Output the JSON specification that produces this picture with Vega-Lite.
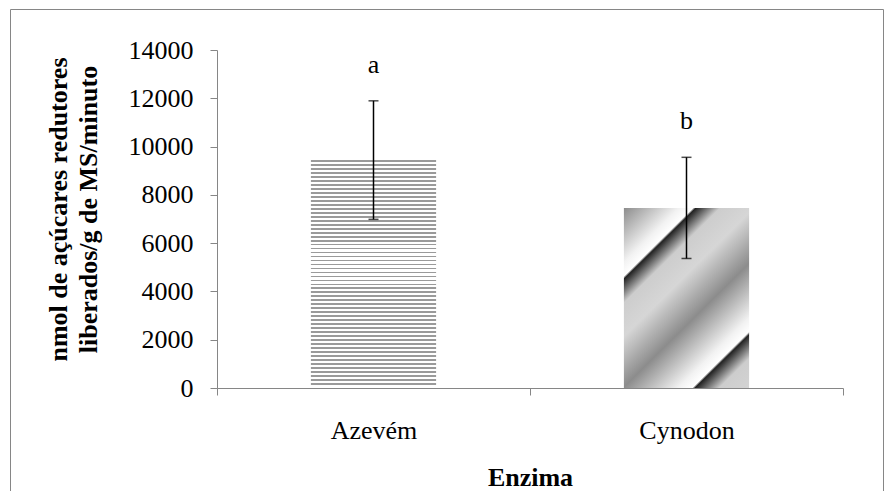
{
"$schema": "https://vega.github.io/schema/vega-lite/v6.json",
"width": 873,
"height": 482,
"autosize": {"type": "none"},
"padding": {"left": 10, "top": 9, "right": 10, "bottom": 0},
"background": "white",
"config": {"view": {"stroke": "#868686", "strokeWidth": 1, "strokeDash": [1355, 873, 482, 0]}, "font": "Liberation Serif"},
"data": {"values": [
  {"enzima": "Azevém", "media": 9440, "inferior": 6985, "superior": 11895, "letra": "a"},
  {"enzima": "Cynodon", "media": 7460, "inferior": 5365, "superior": 9555, "letra": "b"}
]},
"encoding": {
  "x": {"field": "enzima", "type": "nominal", "sort": null,
    "scale": {"domain": ["Azevém", "Cynodon"], "range": [207, 833], "paddingInner": 0, "paddingOuter": 0},
    "axis": {"title": "Enzima", "titleFont": "Liberation Serif", "titleFontSize": 26, "titleFontWeight": "bold", "titleColor": "black",
      "titleY": 97, "titleBaseline": "alphabetic", "offset": -103,
      "labelFont": "Liberation Serif", "labelFontSize": 26, "labelColor": "black", "labelAngle": 0, "labelPadding": 22,
      "tickSize": 7, "tickColor": "#868686", "domainColor": "#868686", "tickBand": "extent", "grid": false}}
},
"layer": [
  {"transform": [{"filter": "datum.enzima === 'Azevém'"}],
   "mark": {"type": "bar", "width": {"band": 0.4}, "fill": {"gradient": "linear", "x1": 0, "y1": 0, "x2": 0, "y2": 1, "stops": [
{"offset":0,"color":"#9a9a9a"},{"offset":0.0079,"color":"#9a9a9a"},{"offset":0.0079,"color":"#ffffff"},
{"offset":0.0175,"color":"#ffffff"},{"offset":0.0175,"color":"#9a9a9a"},{"offset":0.0253,"color":"#9a9a9a"},{"offset":0.0253,"color":"#ffffff"},
{"offset":0.0349,"color":"#ffffff"},{"offset":0.0349,"color":"#9a9a9a"},{"offset":0.0428,"color":"#9a9a9a"},{"offset":0.0428,"color":"#ffffff"},
{"offset":0.0524,"color":"#ffffff"},{"offset":0.0524,"color":"#9a9a9a"},{"offset":0.0603,"color":"#9a9a9a"},{"offset":0.0603,"color":"#ffffff"},
{"offset":0.0699,"color":"#ffffff"},{"offset":0.0699,"color":"#9a9a9a"},{"offset":0.0777,"color":"#9a9a9a"},{"offset":0.0777,"color":"#ffffff"},
{"offset":0.0873,"color":"#ffffff"},{"offset":0.0873,"color":"#9a9a9a"},{"offset":0.0952,"color":"#9a9a9a"},{"offset":0.0952,"color":"#ffffff"},
{"offset":0.1048,"color":"#ffffff"},{"offset":0.1048,"color":"#9a9a9a"},{"offset":0.1127,"color":"#9a9a9a"},{"offset":0.1127,"color":"#ffffff"},
{"offset":0.1223,"color":"#ffffff"},{"offset":0.1223,"color":"#9a9a9a"},{"offset":0.1301,"color":"#9a9a9a"},{"offset":0.1301,"color":"#ffffff"},
{"offset":0.1397,"color":"#ffffff"},{"offset":0.1397,"color":"#9a9a9a"},{"offset":0.1476,"color":"#9a9a9a"},{"offset":0.1476,"color":"#ffffff"},
{"offset":0.1572,"color":"#ffffff"},{"offset":0.1572,"color":"#9a9a9a"},{"offset":0.1651,"color":"#9a9a9a"},{"offset":0.1651,"color":"#ffffff"},
{"offset":0.1747,"color":"#ffffff"},{"offset":0.1747,"color":"#9a9a9a"},{"offset":0.1825,"color":"#9a9a9a"},{"offset":0.1825,"color":"#ffffff"},
{"offset":0.1921,"color":"#ffffff"},{"offset":0.1921,"color":"#9a9a9a"},{"offset":0.2000,"color":"#9a9a9a"},{"offset":0.2000,"color":"#ffffff"},
{"offset":0.2096,"color":"#ffffff"},{"offset":0.2096,"color":"#9a9a9a"},{"offset":0.2175,"color":"#9a9a9a"},{"offset":0.2175,"color":"#ffffff"},
{"offset":0.2271,"color":"#ffffff"},{"offset":0.2271,"color":"#9a9a9a"},{"offset":0.2349,"color":"#9a9a9a"},{"offset":0.2349,"color":"#ffffff"},
{"offset":0.2445,"color":"#ffffff"},{"offset":0.2445,"color":"#9a9a9a"},{"offset":0.2524,"color":"#9a9a9a"},{"offset":0.2524,"color":"#ffffff"},
{"offset":0.2620,"color":"#ffffff"},{"offset":0.2620,"color":"#9a9a9a"},{"offset":0.2699,"color":"#9a9a9a"},{"offset":0.2699,"color":"#ffffff"},
{"offset":0.2795,"color":"#ffffff"},{"offset":0.2795,"color":"#9a9a9a"},{"offset":0.2873,"color":"#9a9a9a"},{"offset":0.2873,"color":"#ffffff"},
{"offset":0.2969,"color":"#ffffff"},{"offset":0.2969,"color":"#9a9a9a"},{"offset":0.3048,"color":"#9a9a9a"},{"offset":0.3048,"color":"#ffffff"},
{"offset":0.3144,"color":"#ffffff"},{"offset":0.3144,"color":"#9a9a9a"},{"offset":0.3223,"color":"#9a9a9a"},{"offset":0.3223,"color":"#ffffff"},
{"offset":0.3319,"color":"#ffffff"},{"offset":0.3319,"color":"#9a9a9a"},{"offset":0.3397,"color":"#9a9a9a"},{"offset":0.3397,"color":"#ffffff"},
{"offset":0.3493,"color":"#ffffff"},{"offset":0.3493,"color":"#9a9a9a"},{"offset":0.3572,"color":"#9a9a9a"},{"offset":0.3572,"color":"#ffffff"},
{"offset":0.3668,"color":"#ffffff"},{"offset":0.3668,"color":"#9a9a9a"},{"offset":0.3747,"color":"#9a9a9a"},{"offset":0.3747,"color":"#ffffff"},
{"offset":0.3843,"color":"#ffffff"},{"offset":0.3843,"color":"#9a9a9a"},{"offset":0.3921,"color":"#9a9a9a"},{"offset":0.3921,"color":"#ffffff"},
{"offset":0.4017,"color":"#ffffff"},{"offset":0.4017,"color":"#9a9a9a"},{"offset":0.4096,"color":"#9a9a9a"},{"offset":0.4096,"color":"#ffffff"},
{"offset":0.4192,"color":"#ffffff"},{"offset":0.4192,"color":"#9a9a9a"},{"offset":0.4271,"color":"#9a9a9a"},{"offset":0.4271,"color":"#ffffff"},
{"offset":0.4367,"color":"#ffffff"},{"offset":0.4367,"color":"#9a9a9a"},{"offset":0.4445,"color":"#9a9a9a"},{"offset":0.4445,"color":"#ffffff"},
{"offset":0.4541,"color":"#ffffff"},{"offset":0.4541,"color":"#9a9a9a"},{"offset":0.4620,"color":"#9a9a9a"},{"offset":0.4620,"color":"#ffffff"},
{"offset":0.4716,"color":"#ffffff"},{"offset":0.4716,"color":"#9a9a9a"},{"offset":0.4795,"color":"#9a9a9a"},{"offset":0.4795,"color":"#ffffff"},
{"offset":0.4891,"color":"#ffffff"},{"offset":0.4891,"color":"#9a9a9a"},{"offset":0.4969,"color":"#9a9a9a"},{"offset":0.4969,"color":"#ffffff"},
{"offset":0.5066,"color":"#ffffff"},{"offset":0.5066,"color":"#9a9a9a"},{"offset":0.5144,"color":"#9a9a9a"},{"offset":0.5144,"color":"#ffffff"},
{"offset":0.5240,"color":"#ffffff"},{"offset":0.5240,"color":"#9a9a9a"},{"offset":0.5319,"color":"#9a9a9a"},{"offset":0.5319,"color":"#ffffff"},
{"offset":0.5415,"color":"#ffffff"},{"offset":0.5415,"color":"#9a9a9a"},{"offset":0.5493,"color":"#9a9a9a"},{"offset":0.5493,"color":"#ffffff"},
{"offset":0.5589,"color":"#ffffff"},{"offset":0.5589,"color":"#9a9a9a"},{"offset":0.5668,"color":"#9a9a9a"},{"offset":0.5668,"color":"#ffffff"},
{"offset":0.5764,"color":"#ffffff"},{"offset":0.5764,"color":"#9a9a9a"},{"offset":0.5843,"color":"#9a9a9a"},{"offset":0.5843,"color":"#ffffff"},
{"offset":0.5939,"color":"#ffffff"},{"offset":0.5939,"color":"#9a9a9a"},{"offset":0.6017,"color":"#9a9a9a"},{"offset":0.6017,"color":"#ffffff"},
{"offset":0.6113,"color":"#ffffff"},{"offset":0.6113,"color":"#9a9a9a"},{"offset":0.6192,"color":"#9a9a9a"},{"offset":0.6192,"color":"#ffffff"},
{"offset":0.6288,"color":"#ffffff"},{"offset":0.6288,"color":"#9a9a9a"},{"offset":0.6367,"color":"#9a9a9a"},{"offset":0.6367,"color":"#ffffff"},
{"offset":0.6463,"color":"#ffffff"},{"offset":0.6463,"color":"#9a9a9a"},{"offset":0.6541,"color":"#9a9a9a"},{"offset":0.6541,"color":"#ffffff"},
{"offset":0.6637,"color":"#ffffff"},{"offset":0.6637,"color":"#9a9a9a"},{"offset":0.6716,"color":"#9a9a9a"},{"offset":0.6716,"color":"#ffffff"},
{"offset":0.6812,"color":"#ffffff"},{"offset":0.6812,"color":"#9a9a9a"},{"offset":0.6891,"color":"#9a9a9a"},{"offset":0.6891,"color":"#ffffff"},
{"offset":0.6987,"color":"#ffffff"},{"offset":0.6987,"color":"#9a9a9a"},{"offset":0.7065,"color":"#9a9a9a"},{"offset":0.7065,"color":"#ffffff"},
{"offset":0.7161,"color":"#ffffff"},{"offset":0.7161,"color":"#9a9a9a"},{"offset":0.7240,"color":"#9a9a9a"},{"offset":0.7240,"color":"#ffffff"},
{"offset":0.7336,"color":"#ffffff"},{"offset":0.7336,"color":"#9a9a9a"},{"offset":0.7415,"color":"#9a9a9a"},{"offset":0.7415,"color":"#ffffff"},
{"offset":0.7511,"color":"#ffffff"},{"offset":0.7511,"color":"#9a9a9a"},{"offset":0.7589,"color":"#9a9a9a"},{"offset":0.7589,"color":"#ffffff"},
{"offset":0.7685,"color":"#ffffff"},{"offset":0.7685,"color":"#9a9a9a"},{"offset":0.7764,"color":"#9a9a9a"},{"offset":0.7764,"color":"#ffffff"},
{"offset":0.7860,"color":"#ffffff"},{"offset":0.7860,"color":"#9a9a9a"},{"offset":0.7939,"color":"#9a9a9a"},{"offset":0.7939,"color":"#ffffff"},
{"offset":0.8035,"color":"#ffffff"},{"offset":0.8035,"color":"#9a9a9a"},{"offset":0.8113,"color":"#9a9a9a"},{"offset":0.8113,"color":"#ffffff"},
{"offset":0.8209,"color":"#ffffff"},{"offset":0.8209,"color":"#9a9a9a"},{"offset":0.8288,"color":"#9a9a9a"},{"offset":0.8288,"color":"#ffffff"},
{"offset":0.8384,"color":"#ffffff"},{"offset":0.8384,"color":"#9a9a9a"},{"offset":0.8463,"color":"#9a9a9a"},{"offset":0.8463,"color":"#ffffff"},
{"offset":0.8559,"color":"#ffffff"},{"offset":0.8559,"color":"#9a9a9a"},{"offset":0.8637,"color":"#9a9a9a"},{"offset":0.8637,"color":"#ffffff"},
{"offset":0.8733,"color":"#ffffff"},{"offset":0.8733,"color":"#9a9a9a"},{"offset":0.8812,"color":"#9a9a9a"},{"offset":0.8812,"color":"#ffffff"},
{"offset":0.8908,"color":"#ffffff"},{"offset":0.8908,"color":"#9a9a9a"},{"offset":0.8987,"color":"#9a9a9a"},{"offset":0.8987,"color":"#ffffff"},
{"offset":0.9083,"color":"#ffffff"},{"offset":0.9083,"color":"#9a9a9a"},{"offset":0.9161,"color":"#9a9a9a"},{"offset":0.9161,"color":"#ffffff"},
{"offset":0.9257,"color":"#ffffff"},{"offset":0.9257,"color":"#9a9a9a"},{"offset":0.9336,"color":"#9a9a9a"},{"offset":0.9336,"color":"#ffffff"},
{"offset":0.9432,"color":"#ffffff"},{"offset":0.9432,"color":"#9a9a9a"},{"offset":0.9511,"color":"#9a9a9a"},{"offset":0.9511,"color":"#ffffff"},
{"offset":0.9607,"color":"#ffffff"},{"offset":0.9607,"color":"#9a9a9a"},{"offset":0.9685,"color":"#9a9a9a"},{"offset":0.9685,"color":"#ffffff"},
{"offset":0.9782,"color":"#ffffff"},{"offset":0.9782,"color":"#9a9a9a"},{"offset":0.9860,"color":"#9a9a9a"},{"offset":0.9860,"color":"#ffffff"},
{"offset":1,"color":"#ffffff"}
   ]}},
   "encoding": {"y": {"field": "media", "type": "quantitative",
     "scale": {"domain": [0, 14000], "range": [379, 41], "nice": false},
     "axis": {"values": [0, 2000, 4000, 6000, 8000, 10000, 12000, 14000], "format": "d", "offset": -207,
       "title": ["nmol de açúcares redutores", "liberados/g de MS/minuto"],
       "titleFont": "Liberation Serif", "titleFontSize": 26, "titleFontWeight": "bold", "titleColor": "black",
       "titleAngle": 270, "titleX": -151, "titleY": 200, "titleAlign": "center", "titleBaseline": "alphabetic", "titleLineHeight": 30,
       "labelFont": "Liberation Serif", "labelFontSize": 26, "labelColor": "black", "labelPadding": 17,
       "tickSize": 7, "tickColor": "#868686", "domainColor": "#868686", "grid": false}}}
  },
  {"transform": [{"filter": "datum.enzima === 'Cynodon'"}],
   "mark": {"type": "bar", "width": {"band": 0.4}, "fill": {"gradient": "linear", "x1": 0, "y1": 0, "x2": 0.7872, "y2": 1.1462, "stops": [
     {"offset": 0, "color": "#8c8c8c"},
     {"offset": 0.1792, "color": "#f2f2f2"},
     {"offset": 0.2248, "color": "#ffffff"},
     {"offset": 0.2345, "color": "#222222"},
     {"offset": 0.3127, "color": "#cdcdcd"},
     {"offset": 0.4235, "color": "#d6d6d6"},
     {"offset": 0.5896, "color": "#8c8c8c"},
     {"offset": 0.7687, "color": "#f2f2f2"},
     {"offset": 0.8143, "color": "#ffffff"},
     {"offset": 0.8241, "color": "#222222"},
     {"offset": 0.9023, "color": "#cdcdcd"},
     {"offset": 1, "color": "#d3d3d3"}
   ]}},
   "encoding": {"y": {"field": "media", "type": "quantitative", "scale": {"domain": [0, 14000], "range": [379, 41], "nice": false},
     "title": ["nmol de açúcares redutores", "liberados/g de MS/minuto"]}}
  },
  {"mark": {"type": "errorbar", "ticks": true, "size": 10, "thickness": 1.5, "color": "black"},
   "encoding": {"y": {"field": "inferior", "type": "quantitative", "scale": {"domain": [0, 14000], "range": [379, 41], "nice": false},
     "title": ["nmol de açúcares redutores", "liberados/g de MS/minuto"]}, "y2": {"field": "superior"}}
  },
  {"mark": {"type": "text", "dy": -28, "fontSize": 26, "baseline": "alphabetic", "align": "center", "color": "black", "font": "Liberation Serif"},
   "encoding": {"y": {"field": "superior", "type": "quantitative", "scale": {"domain": [0, 14000], "range": [379, 41], "nice": false},
     "title": ["nmol de açúcares redutores", "liberados/g de MS/minuto"]}, "text": {"field": "letra"}}
  }
]
}
